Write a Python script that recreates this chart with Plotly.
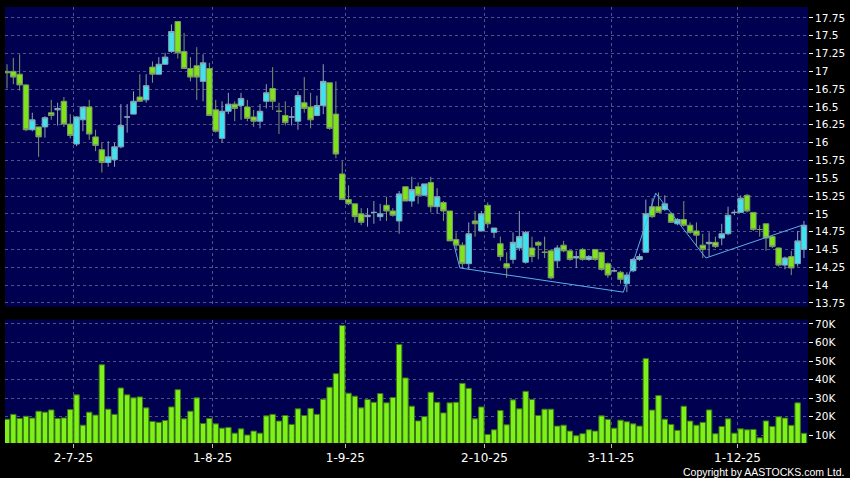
import plotly.graph_objects as go
import pandas as pd

# ---------------- data ----------------
holidays = ["2025-07-01", "2025-10-01", "2025-10-07", "2025-10-29"]
dates = [d for d in pd.bdate_range("2025-06-16", "2025-12-15")
         if d.strftime("%Y-%m-%d") not in holidays]

open_ = [17.00, 17.00, 16.96, 16.81, 16.18, 16.22, 16.22, 16.42, 16.46, 16.58,
         16.26, 15.98, 16.32, 16.50, 16.08, 15.90, 15.72, 15.76, 15.94, 16.36,
         16.40, 16.64, 16.60, 17.06, 16.96, 17.10, 17.28, 17.70, 17.28, 17.04,
         17.08, 16.86, 17.04, 16.46, 16.06, 16.44, 16.54, 16.52, 16.50, 16.36,
         16.30, 16.58, 16.76, 16.44, 16.38, 16.36, 16.30, 16.56, 16.50, 16.38,
         16.52, 16.84, 16.40, 15.56, 15.20, 15.14, 15.00, 14.96, 15.02, 14.96,
         15.12, 15.04, 14.90, 15.38, 15.18, 15.38, 15.26, 15.44, 15.10, 15.16,
         15.04, 14.64, 14.56, 14.30, 14.90, 14.76, 15.12, 14.74, 14.58, 14.30,
         14.36, 14.52, 14.32, 14.52, 14.60, 14.46, 14.48, 14.34, 14.56, 14.48,
         14.38, 14.50, 14.36, 14.50, 14.46, 14.30, 14.20, 14.18, 14.02, 14.20,
         14.36, 14.46, 15.10, 15.10, 15.06, 15.00, 14.86, 14.92, 14.84, 14.76,
         14.56, 14.58, 14.60, 14.66, 14.72, 15.02, 15.02, 15.26, 15.02, 14.78,
         14.86, 14.68, 14.52, 14.28, 14.40, 14.30, 14.50]
high = [17.10, 17.19, 17.24, 16.82, 16.42, 16.22, 16.37, 16.60, 16.56, 16.64,
        16.40, 16.37, 16.50, 16.60, 16.18, 16.00, 16.02, 16.00, 16.54, 16.54,
        16.72, 16.96, 16.96, 17.14, 17.20, 17.26, 17.66, 17.70, 17.54, 17.20,
        17.34, 17.24, 17.12, 16.60, 16.58, 16.70, 16.58, 16.70, 16.60, 16.46,
        16.54, 16.82, 17.06, 16.56, 16.58, 16.50, 16.72, 16.92, 16.70, 16.66,
        17.10, 16.84, 16.86, 15.74, 15.40, 15.14, 15.08, 15.08, 15.18, 15.14,
        15.24, 15.08, 15.32, 15.38, 15.52, 15.44, 15.42, 15.52, 15.36, 15.18,
        15.04, 14.74, 14.60, 14.88, 15.04, 15.04, 15.16, 14.80, 14.68, 14.46,
        14.74, 15.04, 14.76, 14.68, 14.62, 14.68, 14.50, 14.56, 14.62, 14.48,
        14.48, 14.52, 14.42, 14.50, 14.46, 14.32, 14.24, 14.20, 14.18, 14.38,
        14.44, 15.20, 15.22, 15.30, 15.26, 15.02, 14.94, 15.18, 14.88, 14.88,
        14.72, 14.74, 14.68, 14.86, 15.10, 15.06, 15.26, 15.28, 15.02, 14.84,
        14.86, 14.70, 14.53, 14.40, 14.48, 14.76, 14.90]
low = [16.76, 16.82, 16.73, 16.16, 16.16, 15.80, 16.07, 16.32, 16.24, 16.22,
       16.06, 15.95, 16.16, 16.04, 15.88, 15.58, 15.66, 15.66, 15.92, 16.14,
       16.40, 16.58, 16.56, 16.84, 16.96, 17.10, 17.26, 17.18, 17.04, 16.86,
       16.60, 16.58, 16.38, 16.14, 16.00, 16.40, 16.30, 16.32, 16.30, 16.22,
       16.20, 16.48, 16.46, 16.12, 16.24, 16.24, 16.18, 16.42, 16.20, 16.38,
       16.40, 16.18, 15.78, 15.20, 15.12, 14.88, 14.84, 14.82, 14.86, 14.90,
       14.90, 14.96, 14.72, 15.18, 15.10, 15.14, 15.26, 15.02, 15.00, 14.90,
       14.62, 14.48, 14.24, 14.22, 14.68, 14.76, 14.80, 14.66, 14.34, 14.10,
       14.30, 14.48, 14.30, 14.32, 14.36, 14.38, 14.08, 14.24, 14.46, 14.34,
       14.24, 14.34, 14.34, 14.34, 14.20, 14.10, 14.18, 14.02, 13.90, 14.18,
       14.34, 14.46, 14.94, 15.02, 15.04, 14.88, 14.84, 14.82, 14.72, 14.54,
       14.38, 14.40, 14.52, 14.56, 14.70, 14.98, 15.02, 15.02, 14.76, 14.68,
       14.48, 14.52, 14.26, 14.22, 14.14, 14.26, 14.38]
close = [16.98, 16.92, 16.81, 16.18, 16.32, 16.08, 16.35, 16.38, 16.48, 16.26,
         16.10, 16.36, 16.50, 16.12, 15.96, 15.72, 15.80, 15.94, 16.24, 16.36,
         16.58, 16.58, 16.80, 16.96, 17.10, 17.20, 17.56, 17.26, 17.04, 16.92,
         16.92, 17.12, 16.38, 16.16, 16.44, 16.54, 16.48, 16.62, 16.34, 16.30,
         16.44, 16.70, 16.58, 16.44, 16.28, 16.36, 16.66, 16.48, 16.32, 16.52,
         16.86, 16.20, 15.84, 15.20, 15.14, 14.96, 14.88, 14.98, 15.02, 15.00,
         15.04, 14.98, 15.28, 15.18, 15.34, 15.26, 15.42, 15.10, 15.24, 15.04,
         14.62, 14.56, 14.30, 14.72, 14.86, 15.00, 14.86, 14.80, 14.40, 14.24,
         14.60, 14.68, 14.74, 14.40, 14.56, 14.46, 14.10, 14.52, 14.48, 14.36,
         14.40, 14.36, 14.40, 14.36, 14.22, 14.14, 14.20, 14.08, 14.14, 14.36,
         14.40, 15.00, 14.96, 15.02, 15.14, 14.88, 14.92, 14.84, 14.74, 14.70,
         14.50, 14.60, 14.54, 14.72, 14.98, 15.02, 15.22, 15.04, 14.78, 14.78,
         14.66, 14.54, 14.28, 14.38, 14.24, 14.62, 14.84]
volume_k = [18.7, 21.3, 19.1, 20.3, 19.3, 23.0, 22.5, 23.7, 19.1, 19.4,
            23.9, 31.8, 15.5, 22.5, 20.9, 48.0, 24.1, 21.3, 35.5, 31.8,
            30.2, 30.7, 24.8, 17.5, 17.0, 18.0, 25.3, 34.6, 18.9, 23.0,
            30.2, 16.4, 19.1, 16.2, 13.9, 14.3, 11.2, 13.5, 10.2, 12.3,
            11.2, 20.5, 21.3, 17.7, 20.7, 15.9, 24.3, 20.7, 24.5, 21.3,
            29.5, 35.9, 43.2, 69.1, 32.7, 31.1, 24.8, 29.3, 27.8, 32.5,
            27.5, 30.4, 58.9, 40.9, 25.7, 17.8, 20.1, 33.2, 27.8, 22.1,
            27.5, 27.8, 38.0, 35.3, 18.9, 25.3, 10.5, 13.0, 23.4, 15.7,
            29.1, 24.3, 33.7, 29.3, 20.7, 24.1, 24.1, 15.0, 15.5, 12.3,
            9.8, 10.9, 13.0, 12.3, 20.5, 18.6, 13.9, 18.2, 17.3, 16.2,
            15.0, 51.3, 23.6, 31.4, 18.7, 15.9, 12.7, 25.7, 17.7, 15.5,
            17.0, 23.7, 10.9, 14.8, 18.9, 11.2, 13.5, 13.0, 13.2, 8.7,
            17.8, 14.8, 20.0, 19.3, 15.4, 27.5, 11.1]
volume = [v * 1000 for v in volume_k]

# zigzag indicator pivots (candle position, price)
zig_pos = [70.7, 71.6, 97.45, 102.56, 110.5, 125.7]
zig_price = [14.55, 14.24, 13.90, 15.29, 14.38, 14.84]

tick_dates = ["2025-07-02", "2025-08-01", "2025-09-01", "2025-10-02", "2025-11-03", "2025-12-01"]
price_ticks = [13.75, 14, 14.25, 14.5, 14.75, 15, 15.25, 15.5, 15.75, 16,
               16.25, 16.5, 16.75, 17, 17.25, 17.5, 17.75]
price_tick_text = ["13.75", "14", "14.25", "14.5", "14.75", "15", "15.25", "15.5", "15.75", "16",
                   "16.25", "16.5", "16.75", "17", "17.25", "17.5", "17.75"]
vol_ticks = [10000, 20000, 30000, 40000, 50000, 60000, 70000]
vol_tick_text = ["10K", "20K", "30K", "40K", "50K", "60K", "70K"]

# ---------------- derived ----------------
idx = list(range(len(dates)))
date_str = [d.strftime("%Y-%m-%d") for d in dates]
tick_pos = [date_str.index(t) - 0.5 for t in tick_dates]
tick_lbl = []
for t in tick_dates:
    d = pd.Timestamp(t)
    tick_lbl.append(f"{d.day}-{d.month}-{d.strftime('%y')}")

NAVY = "#000050"
GRID = "#50508a"
FONT = "DejaVu Sans"

fig = go.Figure()
fig.add_trace(go.Candlestick(
    x=idx, open=open_, high=high, low=low, close=close,
    text=date_str,
    increasing=dict(fillcolor="#3de4f0", line=dict(color="#8aa4b2", width=1)),
    decreasing=dict(fillcolor="#7fe31c", line=dict(color="#7c9866", width=1)),
    whiskerwidth=0, showlegend=False, xaxis="x", yaxis="y"))
fig.add_trace(go.Scatter(
    x=zig_pos, y=zig_price, mode="lines",
    line=dict(color="#5aaee8", width=1), showlegend=False,
    xaxis="x", yaxis="y", hoverinfo="skip"))
fig.add_trace(go.Bar(
    x=idx, y=volume, width=0.86,
    marker=dict(color="#7ef01a", line=dict(color="#3a7612", width=1)),
    showlegend=False, xaxis="x2", yaxis="y2"))

xr = [-0.316, 126.64]
common_x = dict(range=xr, tickmode="array", tickvals=tick_pos, showgrid=True,
                gridcolor=GRID, griddash="3px,3px", gridwidth=1, zeroline=False,
                showline=False, fixedrange=True)
fig.update_layout(
    width=850, height=478,
    margin=dict(l=5, r=42, t=5, b=35),
    paper_bgcolor="black", plot_bgcolor=NAVY,
    font=dict(family=FONT, color="white", size=11),
    boxgap=0.13, boxgroupgap=0,
    xaxis=dict(domain=[0, 1], anchor="y", showticklabels=False, ticks="",
               rangeslider=dict(visible=False), **common_x),
    xaxis2=dict(domain=[0, 1], anchor="y2", matches="x", ticktext=tick_lbl,
                ticks="outside", ticklen=4, tickcolor="#bbbbbb", tickwidth=1,
                tickfont=dict(size=12, color="white", family=FONT),
                rangeslider=dict(visible=False), **common_x),
    yaxis=dict(domain=[0.3128, 1], anchor="x", side="right",
               range=[13.697, 17.904], tickmode="array",
               tickvals=price_ticks, ticktext=price_tick_text,
               ticks="outside", ticklen=4, tickcolor="white",
               tickfont=dict(size=10.5, color="white", family=FONT),
               showgrid=True, gridcolor=GRID, griddash="3px,3px",
               zeroline=False, fixedrange=True),
    yaxis2=dict(domain=[0, 0.2831], anchor="x2", side="right",
                range=[5900, 72300], tickmode="array",
                tickvals=vol_ticks, ticktext=vol_tick_text,
                ticks="outside", ticklen=4, tickcolor="white",
                tickfont=dict(size=10.5, color="white", family=FONT),
                showgrid=True, gridcolor=GRID, griddash="3px,3px",
                zeroline=False, fixedrange=True),
    annotations=[dict(text="Copyright by AASTOCKS.com Ltd.", xref="paper", yref="paper",
                      x=1.0473, y=-0.0662, xanchor="right", yanchor="middle",
                      showarrow=False,
                      font=dict(size=10.5, color="white", family="Liberation Sans"))],
)

fig.write_html("out.html", config={"displayModeBar": False},
               post_script="document.body.style.margin='0';document.body.style.background='black';")
